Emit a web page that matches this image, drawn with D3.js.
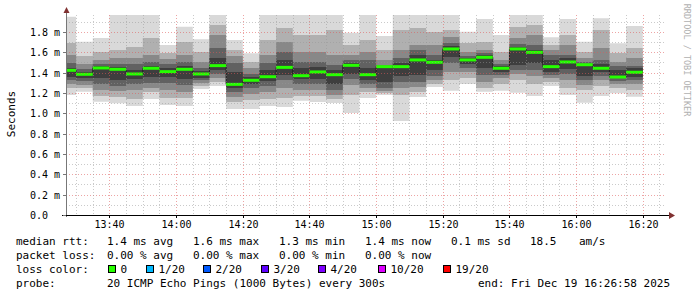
<!DOCTYPE html>
<html>
<head>
<meta charset="utf-8">
<script src="https://cdn.jsdelivr.net/npm/d3@7/dist/d3.min.js"></script>
<style>
  body { margin: 0; background: #fff; }
  text { font-family: "DejaVu Sans Mono", monospace; }
</style>
</head>
<body>
<svg width="697" height="297"></svg>
<script>
// time window of the graph and the 5 minute slots (slot i ends at firstSlotEnd + 5*i min)
var startTime = new Date(2025, 11, 19, 13, 26, 58),
  endTime = new Date(2025, 11, 19, 16, 26, 58),
  firstSlotEnd = new Date(2025, 11, 19, 13, 30, 0);

// median rtt per slot, ms
var median = [1.423, 1.384, 1.446, 1.433, 1.387, 1.443, 1.410, 1.433, 1.387, 1.469,
  1.285, 1.325, 1.360, 1.452, 1.370, 1.407, 1.380, 1.472, 1.380, 1.459,
  1.459, 1.525, 1.502, 1.633, 1.525, 1.551, 1.443, 1.633, 1.600, 1.459,
  1.505, 1.478, 1.443, 1.357, 1.404];

// smoke: sorted pings (1 = fastest, 20 = slowest), ms
var ping1 = [1.180, 1.213, 1.114, 1.099, 1.072, 1.141, 1.082, 1.072, 1.239, 1.269,
  1.043, 1.043, 1.072, 1.062, 1.124, 1.111, 1.102, 1.003, 1.151, 1.180,
  0.925, 1.161, 1.259, 1.222, 1.288, 1.213, 1.222, 1.203, 1.170, 1.269,
  1.180, 1.104, 1.170, 1.197, 1.164];
var ping20 = [1.950, 1.705, 1.741, 2.00, 2.00, 2.00, 1.672, 1.852, 1.728, 2.00,
  1.721, 1.590, 2.00, 2.00, 2.00, 2.00, 2.00, 1.793, 2.00, 1.761,
  2.00, 2.00, 2.00, 2.00, 1.803, 1.928, 1.770, 2.00, 2.00, 1.747,
  1.928, 1.705, 1.935, 1.689, 1.859];
var ping3 = [1.249, 1.249, 1.170, 1.161, 1.141, 1.210, 1.151, 1.151, 1.269, 1.308,
  1.111, 1.131, 1.141, 1.151, 1.170, 1.170, 1.141, 1.180, 1.210, 1.200,
  1.180, 1.210, 1.288, 1.328, 1.347, 1.249, 1.288, 1.328, 1.288, 1.308,
  1.249, 1.229, 1.269, 1.249, 1.229];
var ping18 = [1.692, 1.564, 1.603, 1.623, 1.652, 1.741, 1.593, 1.702, 1.603, 1.869,
  1.623, 1.505, 1.721, 1.839, 1.770, 1.770, 1.820, 1.672, 1.721, 1.623,
  1.820, 1.839, 1.800, 1.820, 1.692, 1.702, 1.603, 1.849, 1.869, 1.672,
  1.770, 1.603, 1.820, 1.593, 1.643];
var ping5 = [1.288, 1.279, 1.229, 1.220, 1.229, 1.249, 1.229, 1.210, 1.298, 1.347,
  1.161, 1.190, 1.210, 1.249, 1.229, 1.229, 1.180, 1.279, 1.249, 1.220,
  1.249, 1.259, 1.328, 1.407, 1.407, 1.308, 1.347, 1.387, 1.367, 1.347,
  1.328, 1.279, 1.328, 1.288, 1.288];
var ping16 = [1.574, 1.485, 1.525, 1.544, 1.544, 1.574, 1.534, 1.574, 1.505, 1.770,
  1.564, 1.446, 1.574, 1.702, 1.603, 1.603, 1.574, 1.574, 1.603, 1.525,
  1.623, 1.672, 1.672, 1.751, 1.603, 1.623, 1.525, 1.741, 1.770, 1.623,
  1.672, 1.544, 1.643, 1.505, 1.544];
var ping7 = [1.328, 1.318, 1.288, 1.269, 1.288, 1.298, 1.298, 1.279, 1.328, 1.387,
  1.210, 1.249, 1.269, 1.328, 1.288, 1.288, 1.229, 1.338, 1.288, 1.249,
  1.308, 1.308, 1.367, 1.495, 1.446, 1.377, 1.377, 1.426, 1.426, 1.377,
  1.387, 1.328, 1.367, 1.318, 1.328];
var ping14 = [1.495, 1.436, 1.485, 1.485, 1.485, 1.505, 1.485, 1.505, 1.446, 1.643,
  1.495, 1.387, 1.495, 1.603, 1.505, 1.505, 1.475, 1.525, 1.525, 1.475,
  1.544, 1.623, 1.574, 1.692, 1.564, 1.593, 1.485, 1.682, 1.672, 1.574,
  1.574, 1.505, 1.525, 1.466, 1.466];
var ping9 = [1.357, 1.347, 1.347, 1.328, 1.338, 1.357, 1.357, 1.338, 1.347, 1.426,
  1.249, 1.288, 1.318, 1.377, 1.338, 1.338, 1.288, 1.387, 1.328, 1.308,
  1.367, 1.377, 1.426, 1.554, 1.485, 1.446, 1.407, 1.475, 1.495, 1.407,
  1.436, 1.367, 1.407, 1.347, 1.357];
var ping12 = [1.446, 1.407, 1.466, 1.456, 1.426, 1.466, 1.446, 1.466, 1.416, 1.544,
  1.407, 1.357, 1.426, 1.525, 1.446, 1.456, 1.426, 1.495, 1.446, 1.456,
  1.495, 1.574, 1.525, 1.662, 1.544, 1.574, 1.466, 1.652, 1.623, 1.525,
  1.544, 1.485, 1.485, 1.426, 1.446];

// packet loss per slot (count of 20)
var loss = [0, 0, 0, 0, 0, 0, 0, 0, 0, 0, 0, 0, 0, 0, 0, 0, 0, 0, 0, 0,
  0, 0, 0, 0, 0, 0, 0, 0, 0, 0, 0, 0, 0, 0, 0];

var yMax = 1.967;

var lossLabels = ["0", "1/20", "2/20", "3/20", "4/20", "10/20", "19/20"];
var lossLimits = [0, 1, 2, 3, 4, 10, 19];
var lossColors = ["#26ff00", "#00b8ff", "#0059ff", "#5e00ff", "#7e00ff", "#dd00ff", "#ff0000"];

var rttRow = ["median rtt:", "1.4 ms avg", "1.6 ms max", "1.3 ms min", "1.4 ms now", "0.1 ms sd", "18.5", "am/s"];
var lossRow = ["packet loss:", "0.00 % avg", "0.00 % max", "0.00 % min", "0.00 % now"];
var probeRow = ["probe:", "20 ICMP Echo Pings (1000 Bytes) every 300s", "end: Fri Dec 19 16:26:58 2025"];

var svg = d3.select("svg");
var pLeft = 66, pRight = 666, pTop = 15, pBottom = 215;

var x = d3.scaleTime().domain([startTime, endTime]).range([pLeft, pRight]);
var y = d3.scaleLinear().domain([0, yMax]).range([pBottom, pTop]);

var slots = median.map(function (m, i) {
  var t1 = d3.timeMinute.offset(firstSlotEnd, 5 * i);
  return { i: i, t0: d3.timeMinute.offset(t1, -5), t1: t1, median: m };
});

svg.append("defs").append("clipPath").attr("id", "plot")
  .append("rect").attr("x", pLeft).attr("y", pTop)
  .attr("width", pRight - pLeft).attr("height", pBottom - pTop);

var plot = svg.append("g").attr("clip-path", "url(#plot)");

// smoke, outer pair first
var bands = [
  { lo: ping1, hi: ping20, color: "#d9d9d9" },
  { lo: ping3, hi: ping18, color: "#b0b0b0" },
  { lo: ping5, hi: ping16, color: "#888888" },
  { lo: ping7, hi: ping14, color: "#616161" },
  { lo: ping9, hi: ping12, color: "#3e3e3e" }
];

var area = d3.area()
  .x(function (d) { return d.x; })
  .y0(function (d) { return d.y0; })
  .y1(function (d) { return d.y1; });

bands.forEach(function (b) {
  var pts = [];
  slots.forEach(function (s) {
    pts.push({ x: x(s.t0), y0: y(b.lo[s.i]), y1: y(b.hi[s.i]) });
    pts.push({ x: x(s.t1), y0: y(b.lo[s.i]), y1: y(b.hi[s.i]) });
  });
  plot.append("path").attr("d", area(pts)).attr("fill", b.color);
});

// grid on top
var grid = svg.append("g");
y.ticks(20).forEach(function (v) {
  if (v === 0) return;
  var major = Math.round(v * 10) % 2 === 0;
  var yy = Math.round(y(v)) + 0.5;
  grid.append("line")
    .attr("x1", pLeft).attr("x2", pRight)
    .attr("y1", yy).attr("y2", yy)
    .attr("stroke", major ? "rgba(222,90,90,0.55)" : "rgba(150,150,150,0.5)")
    .attr("stroke-dasharray", "1,2");
});
x.ticks(d3.timeMinute.every(5)).forEach(function (t) {
  var major = t.getMinutes() % 20 === 0;
  var xx = Math.round(x(t)) + 0.5;
  grid.append("line")
    .attr("x1", xx).attr("x2", xx)
    .attr("y1", pTop).attr("y2", pBottom)
    .attr("stroke", major ? "rgba(222,90,90,0.55)" : "rgba(150,150,150,0.5)")
    .attr("stroke-dasharray", "1,2");
});

// median line
var stepPts = [];
slots.forEach(function (s) {
  stepPts.push([x(s.t0), y(s.median)]);
  stepPts.push([x(s.t1), y(s.median)]);
});
plot.append("path")
  .attr("d", d3.line()(stepPts))
  .attr("fill", "none")
  .attr("stroke", "#202020")
  .attr("stroke-width", 1);

function lossColor(l) {
  var c = lossColors[0];
  lossLimits.forEach(function (lim, k) { if (l >= lim) c = lossColors[k]; });
  return c;
}

plot.selectAll("line.med")
  .data(slots)
  .enter()
  .append("line")
  .attr("class", "med")
  .attr("x1", function (d) { return x(d.t0); })
  .attr("x2", function (d) { return x(d.t1); })
  .attr("y1", function (d) { return y(d.median); })
  .attr("y2", function (d) { return y(d.median); })
  .attr("stroke", function (d) { return lossColor(loss[d.i]); })
  .attr("stroke-width", 3);

// axes
var axes = svg.append("g");
axes.append("line").attr("x1", pLeft + 0.5).attr("x2", pLeft + 0.5)
  .attr("y1", pBottom + 2).attr("y2", 11).attr("stroke", "#777");
axes.append("line").attr("x1", pLeft - 4).attr("x2", 670)
  .attr("y1", pBottom + 0.5).attr("y2", pBottom + 0.5).attr("stroke", "#000");
axes.append("path").attr("d", "M63.5,13L69.5,13L66.5,7Z").attr("fill", "#803131");
axes.append("path").attr("d", "M669,212L669,219L675,215.5Z").attr("fill", "#803131");

y.ticks(10).forEach(function (v) {
  var yy = Math.round(y(v)) + 0.5;
  axes.append("line").attr("x1", pLeft - 3).attr("x2", pLeft)
    .attr("y1", yy).attr("y2", yy).attr("stroke", "#777");
  axes.append("text")
    .attr("x", 30).attr("y", yy + 3.5)
    .attr("font-size", "10px")
    .attr("fill", "#000")
    .text(v === 0 ? "0.0" : d3.format(".1f")(v) + " m");
});

x.ticks(d3.timeMinute.every(20)).forEach(function (t) {
  var xx = Math.round(x(t)) + 0.5;
  axes.append("line").attr("x1", xx).attr("x2", xx)
    .attr("y1", pBottom).attr("y2", pBottom + 3).attr("stroke", "#000");
  axes.append("text")
    .attr("x", xx).attr("y", 228)
    .attr("text-anchor", "middle")
    .attr("font-size", "10px")
    .text(d3.timeFormat("%H:%M")(t));
});

svg.append("text")
  .attr("transform", "translate(15,114) rotate(-90)")
  .attr("text-anchor", "middle")
  .attr("font-size", "11px")
  .text("Seconds");

svg.append("text")
  .attr("transform", "translate(684,60) rotate(90)")
  .attr("text-anchor", "middle")
  .attr("font-size", "8.5px")
  .attr("fill", "#b0b0b0")
  .text("RRDTOOL / TOBI OETIKER");

// legend
var legend = svg.append("g").attr("font-size", "11px");
var rttX = [16, 107, 193, 279, 365, 451, 530, 579];
rttRow.forEach(function (s, k) {
  legend.append("text").attr("x", rttX[k]).attr("y", 244.5).text(s);
});
lossRow.forEach(function (s, k) {
  legend.append("text").attr("x", rttX[k]).attr("y", 258.8).text(s);
});
legend.append("text").attr("x", 16).attr("y", 273).text("loss color:");
var boxX = [108, 146, 203, 261, 318, 378, 443];
lossLabels.forEach(function (s, k) {
  legend.append("rect")
    .attr("x", boxX[k] + 0.5).attr("y", 265.5)
    .attr("width", 7).attr("height", 7)
    .attr("fill", lossColors[k]).attr("stroke", "#000");
  legend.append("text").attr("x", boxX[k] + 12.5).attr("y", 273).text(s);
});
var probeX = [16, 107, 478];
probeRow.forEach(function (s, k) {
  legend.append("text").attr("x", probeX[k]).attr("y", 287.2).text(s);
});
</script>
</body>
</html>
